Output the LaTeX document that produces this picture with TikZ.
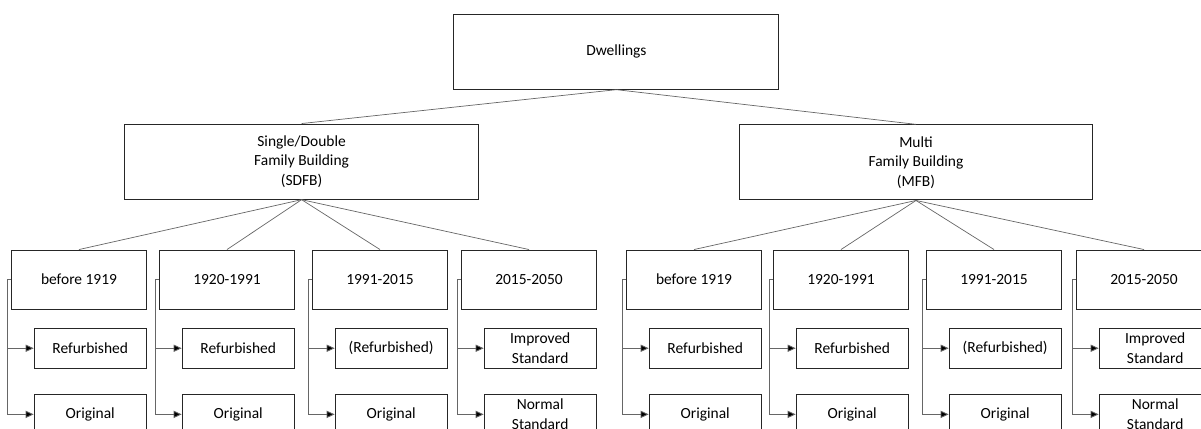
\documentclass[tikz,border=0pt]{standalone}
\usepackage{fontspec}
\setmainfont{Carlito}
\usetikzlibrary{arrows.meta, positioning}

\begin{document}
\begin{tikzpicture}[
        font=\fontsize{11}{13.8}\selectfont,
        box/.style={rectangle, draw=black!85, line width=0.8pt, fill=white,
                    align=center, inner sep=1pt},
        top/.style={box, minimum width=8.125cm, minimum height=1.875cm},
        group/.style={box, minimum width=8.84cm, minimum height=1.875cm},
        period/.style={box, minimum width=3.36cm, minimum height=1.475cm},
        variant/.style={box, minimum width=2.8cm, minimum height=1cm},
        tree/.style={draw=black!60, line width=0.5pt},
        link/.style={draw=black!60, line width=0.6pt,
                     -{Triangle[length=2mm, width=1.8mm, fill=black]}},
    ]
    \useasboundingbox (0,0) rectangle (30.025,-10.7);

    % top levels
    \node[top] (dw) at (15.41,-1.29) {Dwellings};
    \node[group] (sdfb) at (7.54,-4.04) {Single/Double\\Family Building\\(SDFB)};
    \node[group] (mfb) at (22.9,-4.06) {Multi\\Family Building\\(MFB)};
    \draw[tree] (dw.south) -- (sdfb.north);
    \draw[tree] (dw.south) -- (mfb.north);

    % construction periods with their variants
    \foreach \nm/\x/\up/\per/\va/\vb in {
        s1/1.975/sdfb/before 1919/Refurbished/Original,
        s2/5.675/sdfb/1920-1991/Refurbished/Original,
        s3/9.5/sdfb/1991-2015/(Refurbished)/Original,
        s4/13.225/sdfb/2015-2050/{Improved\\Standard}/{Normal\\Standard},
        m1/17.35/mfb/before 1919/Refurbished/Original,
        m2/21.025/mfb/1920-1991/Refurbished/Original,
        m3/24.85/mfb/1991-2015/(Refurbished)/Original,
        m4/28.6/mfb/2015-2050/{Improved\\Standard}/{Normal\\Standard}} {
        \node[period] (\nm) at (\x,-6.99) {\per};
        \node[variant, below=4.5mm of \nm.south east, anchor=north east] (\nm a) {\va};
        \node[variant, below=6.25mm of \nm a.south east, anchor=north east] (\nm b) {\vb};
        \draw[tree] (\up.south) -- (\nm.north);
        \draw[link] (\nm.west) -- ++(-0.1,0) |- (\nm a.west);
        \draw[link] (\nm.west) -- ++(-0.1,0) |- (\nm b.west);
    }
\end{tikzpicture}
\end{document}
